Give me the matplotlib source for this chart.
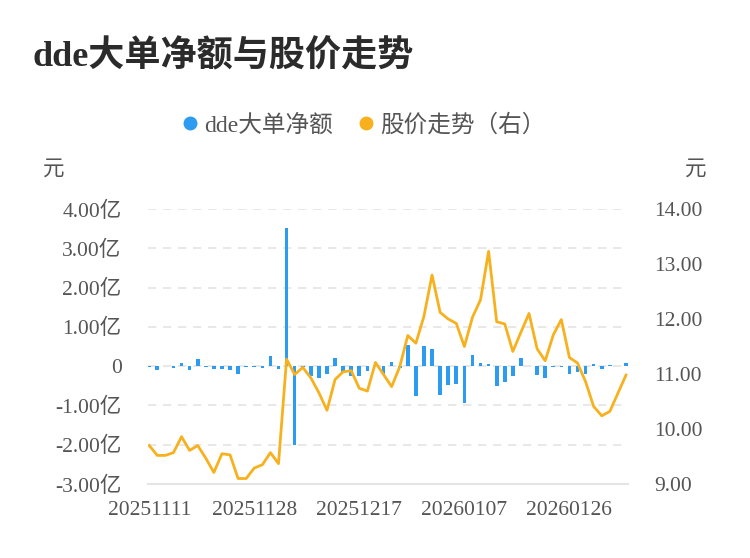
import matplotlib
matplotlib.use("Agg")
import matplotlib.pyplot as plt
from matplotlib.lines import Line2D

plt.rcParams['font.family'] = ['Liberation Serif', 'Noto Sans CJK SC', 'DejaVu Sans']

dates = ["20251111", "20251112", "20251113", "20251114", "20251117", "20251118", "20251119",
         "20251120", "20251121", "20251124", "20251125", "20251126", "20251127", "20251128",
         "20251201", "20251202", "20251203", "20251204", "20251205", "20251208", "20251209",
         "20251210", "20251211", "20251212", "20251215", "20251216", "20251217", "20251218",
         "20251219", "20251222", "20251223", "20251224", "20251225", "20251226", "20251229",
         "20251230", "20251231", "20260105", "20260106", "20260107", "20260108", "20260109",
         "20260112", "20260113", "20260114", "20260115", "20260116", "20260119", "20260120",
         "20260121", "20260122", "20260123", "20260126", "20260127", "20260128", "20260129",
         "20260130", "20260202", "20260203", "20260204"]

# dde net amount, unit: 亿元
dde_net = [-0.01, -0.10, 0.00, -0.04, 0.08, -0.10, 0.18, -0.03, -0.07, -0.07,
           -0.11, -0.21, -0.01, -0.02, -0.04, 0.26, -0.08, 3.51, -2.01, -0.02,
           -0.25, -0.29, -0.20, 0.20, -0.14, -0.24, -0.24, -0.12, 0.11, -0.23,
           0.11, -0.04, 0.54, -0.76, 0.51, 0.43, -0.74, -0.48, -0.46, -0.93,
           0.29, 0.08, 0.05, -0.50, -0.40, -0.25, 0.21, 0.01, -0.23, -0.29,
           -0.03, -0.02, -0.20, -0.16, -0.21, 0.05, -0.07, 0.03, 0.01, 0.08]

# stock price, unit: 元
price = [9.70, 9.52, 9.52, 9.57, 9.86, 9.61, 9.70, 9.47, 9.21, 9.55,
         9.53, 9.10, 9.10, 9.29, 9.35, 9.57, 9.37, 11.27, 10.99, 11.12,
         10.93, 10.66, 10.34, 10.90, 11.04, 11.06, 10.74, 10.69, 11.21, 10.99,
         10.77, 11.13, 11.70, 11.56, 12.05, 12.80, 12.12, 12.00, 11.92, 11.50,
         12.03, 12.35, 13.23, 11.95, 11.91, 11.41, 11.76, 12.10, 11.46, 11.24,
         11.71, 11.99, 11.30, 11.20, 10.86, 10.41, 10.24, 10.32, 10.65, 10.98]

left_ticks = [-3, -2, -1, 0, 1, 2, 3, 4]
left_labels = ["-3.00亿", "-2.00亿", "-1.00亿", "0", "1.00亿", "2.00亿", "3.00亿", "4.00亿"]
right_ticks = [9, 10, 11, 12, 13, 14]
right_labels = ["9.00", "10.00", "11.00", "12.00", "13.00", "14.00"]
xtick_idx = [0, 13, 26, 39, 52]

blue = '#2d9bf0'
orange = '#f7b11e'
text_c = '#555555'

fig = plt.figure(figsize=(7.5, 5.58), dpi=100)
ax = fig.add_axes([148/750, 1-484/558, (628-148)/750, (484-209)/558])
x = list(range(len(dates)))

ax.bar(x, dde_net, width=0.45, color=blue, zorder=3)
ax.set_ylim(-3, 4)
ax.set_xlim(-0.15, len(dates)-1+0.25)
ax.set_yticks(left_ticks)
ax.set_yticklabels(left_labels)
ax.yaxis.grid(True, linestyle=(0, (5, 4)), color='#e4e4e4', linewidth=1.2, zorder=0)
ax.set_xticks(xtick_idx)
ax.set_xticklabels([dates[i] for i in xtick_idx])
for s in ['top', 'right', 'left']:
    ax.spines[s].set_visible(False)
ax.spines['bottom'].set_color('#e4e4e4')
ax.spines['bottom'].set_linewidth(1.5)
ax.tick_params(axis='y', length=0, pad=19, labelsize=15.5, labelcolor=text_c)
ax.tick_params(axis='x', length=0, pad=12, labelsize=15.5, labelcolor=text_c)

ax2 = ax.twinx()
ax2.plot(x, price, color=orange, linewidth=2, zorder=4)
ax2.set_ylim(9, 14)
ax2.set_yticks(right_ticks)
ax2.set_yticklabels(right_labels)
for s in ['top', 'right', 'left', 'bottom']:
    ax2.spines[s].set_visible(False)
ax2.tick_params(axis='y', length=0, pad=19, labelsize=15.5, labelcolor=text_c)

fig.text(33/750, 1-57/558, "dde大单净额与股价走势", fontsize=26, fontweight='bold',
         color='#2b2b2b', va='center', ha='left')
fig.text(54/750, 1-170/558, "元", fontsize=15.5, color=text_c, ha='center', va='center')
fig.text(696/750, 1-170/558, "元", fontsize=15.5, color=text_c, ha='center', va='center')

handles = [Line2D([], [], marker='o', linestyle='none', color=blue, markersize=9),
           Line2D([], [], marker='o', linestyle='none', color=orange, markersize=9)]
leg = fig.legend(handles, ["dde大单净额", "股价走势（右）"], loc='center',
                 bbox_to_anchor=(362/750, 1-125/558), ncol=2, frameon=False,
                 fontsize=17, handletextpad=0.1, columnspacing=0.9, handlelength=1.0)
for t in leg.get_texts():
    t.set_color(text_c)

fig.savefig("out.png", dpi=100, facecolor='white')
